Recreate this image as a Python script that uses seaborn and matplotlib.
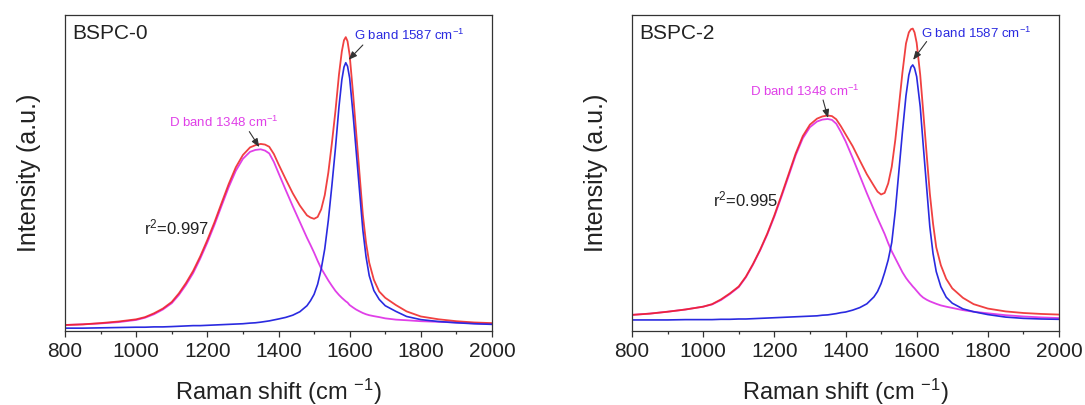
import matplotlib
matplotlib.use("Agg")
import matplotlib.pyplot as plt
import seaborn as sns

# ---------------- data ----------------
# common Raman-shift sampling positions (cm^-1)
shift = [800, 850, 900, 950, 1000, 1025, 1050, 1075, 1100, 1120, 1140, 1160, 1180, 1200,
         1220, 1240, 1260, 1280, 1300, 1320, 1335, 1350, 1362, 1374, 1387, 1400, 1420, 1440,
         1460, 1480, 1490, 1500, 1510, 1520, 1530, 1540, 1550, 1560, 1570, 1578, 1584, 1589,
         1594, 1600, 1610, 1618, 1628, 1637, 1646, 1655, 1668, 1683, 1700, 1730, 1760, 1800,
         1850, 1900, 1950, 2000]

# BSPC-0
b0_total = [0.019, 0.021, 0.025, 0.030, 0.037, 0.044, 0.056, 0.071, 0.092, 0.119, 0.152, 0.190, 0.236, 0.288,
            0.344, 0.405, 0.465, 0.518, 0.557, 0.581, 0.588, 0.592, 0.590, 0.583, 0.560, 0.528, 0.481, 0.436,
            0.397, 0.366, 0.359, 0.355, 0.361, 0.385, 0.430, 0.501, 0.594, 0.696, 0.812, 0.885, 0.920, 0.930,
            0.917, 0.873, 0.745, 0.632, 0.493, 0.368, 0.279, 0.216, 0.162, 0.125, 0.105, 0.082, 0.062, 0.046,
            0.037, 0.031, 0.027, 0.025]
b0_dband = [0.019, 0.021, 0.024, 0.028, 0.035, 0.042, 0.053, 0.068, 0.088, 0.114, 0.146, 0.183, 0.229, 0.280,
            0.336, 0.396, 0.455, 0.507, 0.545, 0.567, 0.573, 0.575, 0.571, 0.562, 0.535, 0.500, 0.447, 0.395,
            0.345, 0.295, 0.272, 0.248, 0.222, 0.198, 0.179, 0.160, 0.143, 0.127, 0.114, 0.105, 0.099, 0.094,
            0.090, 0.082, 0.074, 0.068, 0.062, 0.057, 0.053, 0.050, 0.047, 0.044, 0.040, 0.036, 0.034, 0.031,
            0.029, 0.027, 0.024, 0.022]
b0_gband = [0.009, 0.009, 0.010, 0.011, 0.012, 0.012, 0.013, 0.013, 0.014, 0.015, 0.016, 0.017, 0.017, 0.018,
            0.019, 0.020, 0.021, 0.022, 0.023, 0.025, 0.026, 0.028, 0.030, 0.032, 0.035, 0.038, 0.043, 0.050,
            0.061, 0.080, 0.096, 0.116, 0.148, 0.196, 0.260, 0.350, 0.460, 0.578, 0.710, 0.795, 0.835, 0.849,
            0.838, 0.800, 0.680, 0.573, 0.440, 0.320, 0.235, 0.175, 0.128, 0.100, 0.080, 0.062, 0.046, 0.036,
            0.030, 0.026, 0.023, 0.021]

# BSPC-2
b2_total = [0.051, 0.055, 0.061, 0.068, 0.077, 0.085, 0.100, 0.119, 0.141, 0.172, 0.212, 0.257, 0.308, 0.366,
            0.430, 0.496, 0.562, 0.617, 0.653, 0.672, 0.679, 0.682, 0.680, 0.670, 0.648, 0.623, 0.585, 0.540,
            0.496, 0.459, 0.441, 0.432, 0.437, 0.467, 0.520, 0.605, 0.710, 0.818, 0.910, 0.945, 0.955, 0.957,
            0.945, 0.912, 0.810, 0.700, 0.560, 0.435, 0.340, 0.265, 0.208, 0.165, 0.135, 0.105, 0.085, 0.071,
            0.062, 0.057, 0.054, 0.052]
b2_dband = [0.051, 0.055, 0.061, 0.068, 0.077, 0.084, 0.098, 0.117, 0.139, 0.170, 0.210, 0.255, 0.305, 0.362,
            0.425, 0.490, 0.556, 0.610, 0.645, 0.663, 0.669, 0.671, 0.668, 0.656, 0.630, 0.601, 0.548, 0.492,
            0.436, 0.383, 0.357, 0.332, 0.307, 0.278, 0.252, 0.230, 0.208, 0.186, 0.168, 0.156, 0.148, 0.141,
            0.135, 0.127, 0.114, 0.106, 0.099, 0.094, 0.090, 0.086, 0.081, 0.077, 0.073, 0.066, 0.061, 0.056,
            0.050, 0.046, 0.043, 0.041]
b2_gband = [0.035, 0.035, 0.035, 0.036, 0.036, 0.036, 0.037, 0.037, 0.038, 0.038, 0.039, 0.040, 0.041, 0.042,
            0.043, 0.044, 0.045, 0.046, 0.047, 0.048, 0.050, 0.051, 0.053, 0.055, 0.058, 0.060, 0.066, 0.074,
            0.086, 0.108, 0.125, 0.150, 0.185, 0.225, 0.280, 0.380, 0.505, 0.630, 0.745, 0.810, 0.835, 0.842,
            0.832, 0.805, 0.710, 0.594, 0.455, 0.330, 0.245, 0.188, 0.140, 0.107, 0.088, 0.070, 0.061, 0.052,
            0.044, 0.040, 0.038, 0.037]

sample_names = ["BSPC-0", "BSPC-2"]
r2_labels = ["0.997", "0.995"]
d_label = "D band 1348 cm$^{-1}$"
g_label = "G band 1587 cm$^{-1}$"
x_major = [800, 1000, 1200, 1400, 1600, 1800, 2000]
x_minor = [900, 1100, 1300, 1500, 1700, 1900]

# ---------------- style ----------------
sns.set_style("ticks")
plt.rcParams["font.family"] = ["Liberation Sans", "DejaVu Sans"]
plt.rcParams["mathtext.fontset"] = "custom"
plt.rcParams["mathtext.rm"] = "Liberation Sans"
plt.rcParams["mathtext.it"] = "Liberation Sans:italic"
plt.rcParams["mathtext.bf"] = "Liberation Sans:bold"

RED = "#ee1f1f"
MAG = "#e040e8"
BLUE = "#2a2ae0"
SPINE = "#333333"
TXT = "#222222"

fig = plt.figure(figsize=(10.85, 4.05), dpi=100)
ax0 = fig.add_axes([65 / 1085, 74 / 405, 427 / 1085, 316 / 405])
ax1 = fig.add_axes([632 / 1085, 74 / 405, 427 / 1085, 316 / 405])

panels = [
    (ax0, b0_total, b0_dband, b0_gband,
     dict(d_text=(1093, 0.66), d_tail=(1318, 0.631), d_head=(1346, 0.582),
          g_text=(1613, 0.934), g_tail=(1637, 0.905), g_head=(1597, 0.858),
          r2=(1023, 0.329))),
    (ax1, b2_total, b2_dband, b2_gband,
     dict(d_text=(1131, 0.759), d_tail=(1337, 0.731), d_head=(1351, 0.674),
          g_text=(1612, 0.942), g_tail=(1628, 0.916), g_head=(1590, 0.858),
          r2=(1028, 0.415))),
]

for i, (ax, tot, dband, gband, ann) in enumerate(panels):
    sns.lineplot(x=shift, y=dband, ax=ax, color=MAG, lw=1.3, sort=False, estimator=None)
    sns.lineplot(x=shift, y=tot, ax=ax, color=RED, lw=1.3, alpha=0.85, sort=False, estimator=None)
    sns.lineplot(x=shift, y=gband, ax=ax, color=BLUE, lw=1.2, sort=False, estimator=None)

    ax.set_xlim(800, 2000)
    ax.set_ylim(0, 1)
    ax.set_xticks(x_major)
    ax.set_xticks(x_minor, minor=True)
    ax.set_yticks([])
    ax.tick_params(axis="x", which="major", direction="out", length=4.5, width=0.9,
                   labelsize=15, pad=3.5, color=SPINE, labelcolor=TXT)
    ax.tick_params(axis="x", which="minor", direction="out", length=2.5, width=0.9, color=SPINE)
    for s in ax.spines.values():
        s.set_visible(True)
        s.set_color(SPINE)
        s.set_linewidth(0.9)

    ax.set_xlabel("Raman shift (cm $^{-1}$)", fontsize=17, color=TXT, labelpad=11)
    ax.set_ylabel("Intensity (a.u.)", fontsize=18, color=TXT, labelpad=17)

    ax.text(0.016, 0.94, sample_names[i], transform=ax.transAxes, fontsize=15,
            color=TXT, va="center", ha="left")
    ax.text(ann["d_text"][0], ann["d_text"][1], d_label, color=MAG, fontsize=9.5,
            va="center", ha="left")
    ax.text(ann["g_text"][0], ann["g_text"][1], g_label, color=BLUE, fontsize=9.5,
            va="center", ha="left")
    for tail, head in ((ann["d_tail"], ann["d_head"]), (ann["g_tail"], ann["g_head"])):
        ax.annotate("", xy=head, xytext=tail,
                    arrowprops=dict(arrowstyle="-|>,head_length=0.5,head_width=0.2",
                                    color="#333333", lw=0.8, shrinkA=0, shrinkB=0))
    ax.text(ann["r2"][0], ann["r2"][1], "r$^2$=" + r2_labels[i], fontsize=12,
            color=TXT, va="center", ha="left")

fig.savefig("out.png", dpi=100, facecolor="white")
